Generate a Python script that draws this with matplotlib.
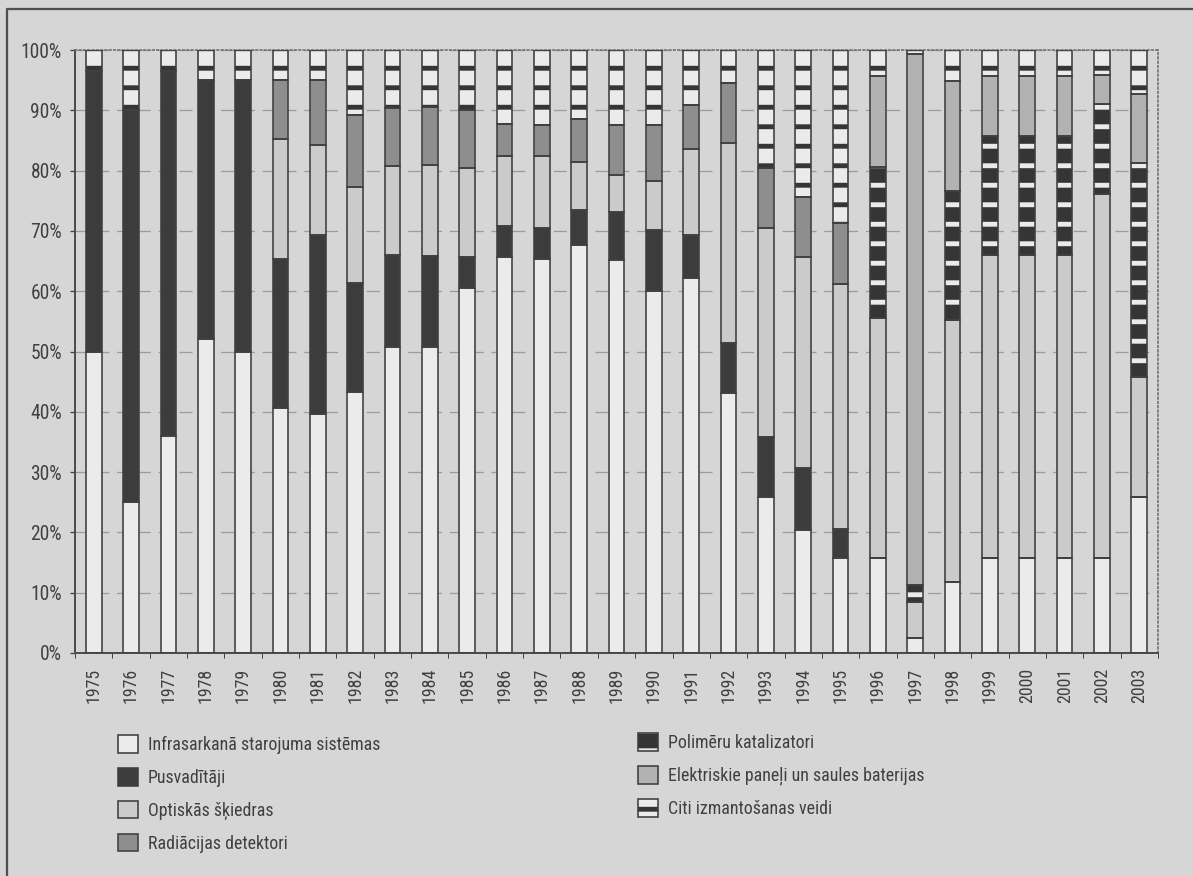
import numpy as np
import matplotlib.pyplot as plt
from matplotlib.patches import Patch
from matplotlib.lines import Line2D

plt.rcParams['font.family'] = ['Roboto Condensed', 'Liberation Sans Narrow', 'DejaVu Sans']
plt.rcParams['font.stretch'] = 'condensed'
plt.rcParams['hatch.linewidth'] = 3.0

years = [str(y) for y in range(1975, 2004)]

infra = [50, 25, 36, 52, 50, 40.6, 39.7, 43.3, 50.8, 50.8, 60.5, 65.6, 65.4, 67.7, 65.1,
         60, 62.2, 43.2, 25.9, 20.4, 15.7, 15.7, 2.5, 11.8, 15.8, 15.8, 15.8, 15.8, 25.9]
pusvad = [46.5, 65, 60.6, 43, 45, 24.8, 29.6, 18.1, 15.2, 15, 5.2, 5.2, 5, 5.8, 8.1,
          10.2, 7.2, 8.2, 10, 10.2, 4.9, 0, 0, 0, 0, 0, 0, 0, 0]
optiskas = [0, 0, 0, 0, 0, 19.8, 14.9, 15.9, 14.7, 15.1, 14.7, 11.6, 12, 7.9, 6.1,
            8, 14.1, 33.1, 34.5, 35.1, 40.6, 39.8, 6, 43.4, 50.2, 50.2, 50.2, 60.4, 19.9]
radiacijas = [0, 0, 0, 0, 0, 9.9, 10.9, 12, 9.6, 9.7, 9.7, 5.3, 5.2, 7.1, 8.3,
              9.4, 7.4, 10.1, 10, 10, 10.1, 0, 0, 0, 0, 0, 0, 0, 0]
polimeru = [0, 0, 0, 0, 0, 0, 0, 0, 0, 0, 0, 0, 0, 0, 0,
            0, 0, 0, 0, 0, 0, 25.1, 2.8, 21.4, 19.7, 19.7, 19.7, 14.8, 35.4]
elektriskie = [0, 0, 0, 0, 0, 0, 0, 0, 0, 0, 0, 0, 0, 0, 0,
               0, 0, 0, 0, 0, 0, 15.1, 88, 18.2, 10, 10, 10, 4.9, 11.5]
citi = [3.5, 10, 3.4, 5, 5, 4.9, 4.9, 10.7, 9.7, 9.4, 9.9, 12.3, 12.4, 11.5, 12.4,
        12.4, 9.1, 5.4, 19.6, 24.3, 28.7, 4.3, 0.7, 5.2, 4.3, 4.3, 4.3, 4.1, 7.3]

labels = ['Infrasarkanā starojuma sistēmas', 'Pusvadītāji', 'Optiskās šķiedras',
          'Radiācijas detektori', 'Polimēru katalizatori',
          'Elektriskie paneļi un saules baterijas', 'Citi izmantošanas veidi']
series = [infra, pusvad, optiskas, radiacijas, polimeru, elektriskie, citi]

bg = '#d6d6d6'
edge = '#404040'
txt = '#404040'
# face colour, hatch, hatch colour
styles = [('#ebebeb', None, edge),
          ('#3c3c3c', None, edge),
          ('#cbcbcb', None, edge),
          ('#8e8e8e', None, edge),
          ('#353535', '-', '#ebebeb'),
          ('#b2b2b2', None, edge),
          ('#ebebeb', '-', '#353535')]

fig = plt.figure(figsize=(1193 / 117, 876 / 117), dpi=117, facecolor=bg)
ax = fig.add_axes([75 / 1193, 1 - 653 / 876, 1083 / 1193, 603 / 876])
ax.set_facecolor(bg)

x = np.arange(len(years))
w = 0.42
bottom = np.zeros(len(years))
handles = []
for vals, (face, hatch, hc) in zip(series, styles):
    vals = np.array(vals, dtype=float)
    ax.bar(x, vals, w, bottom=bottom, color=face, hatch=hatch, edgecolor=hc,
           linewidth=0, zorder=2)
    ax.bar(x, vals, w, bottom=bottom, fill=False, edgecolor=edge, linewidth=1.0, zorder=3)
    bottom += vals
    handles.append((Patch(facecolor=face, hatch=hatch, edgecolor=hc, linewidth=0),
                    Patch(fill=False, edgecolor=edge, linewidth=1.0)))

ax.set_xlim(-0.5, len(years) - 0.5)
ax.set_ylim(0, 100)
ax.set_yticks(range(0, 101, 10))
ax.set_yticklabels([f'{v}%' for v in range(0, 101, 10)])
ax.set_xticks(x)
ax.set_xticklabels(years, rotation=90)
ax.set_xticks(np.arange(-0.5, len(years), 1), minor=True)
ax.tick_params(axis='x', which='major', length=0, pad=9, labelsize=11, labelcolor=txt)
ax.tick_params(axis='x', which='minor', length=3, direction='out', color=edge)
ax.tick_params(axis='y', length=3, pad=5, labelsize=12, labelcolor=txt, color=edge)

ax.yaxis.grid(True, linestyle=(0, (10, 6)), color='#9c9c9c', linewidth=0.8)
ax.set_axisbelow(True)
for s in ['left', 'bottom']:
    ax.spines[s].set_color('#4a4a4a')
    ax.spines[s].set_linewidth(1.2)
for s in ['top', 'right']:
    ax.spines[s].set_color('#707070')
    ax.spines[s].set_linestyle(':')
    ax.spines[s].set_linewidth(1.0)

leg_kw = dict(frameon=False, fontsize=11, handlelength=1.12, handleheight=1.15,
              handletextpad=0.55, labelspacing=0.78, borderpad=0, borderaxespad=0,
              labelcolor=txt, loc='upper left')
leg1 = fig.legend(handles[:4], labels[:4], bbox_to_anchor=(118 / 1193, 1 - 735 / 876), **leg_kw)
leg2 = fig.legend(handles[4:], labels[4:], bbox_to_anchor=(638 / 1193, 1 - 733 / 876), **leg_kw)

# outer frame of the scanned figure
fig.add_artist(Line2D([7 / 1193, 7 / 1193, 1], [0, 1 - 9 / 876, 1 - 9 / 876],
                      transform=fig.transFigure, color='#505050', linewidth=1.4))

fig.savefig('out.png', dpi=117, facecolor=bg)
